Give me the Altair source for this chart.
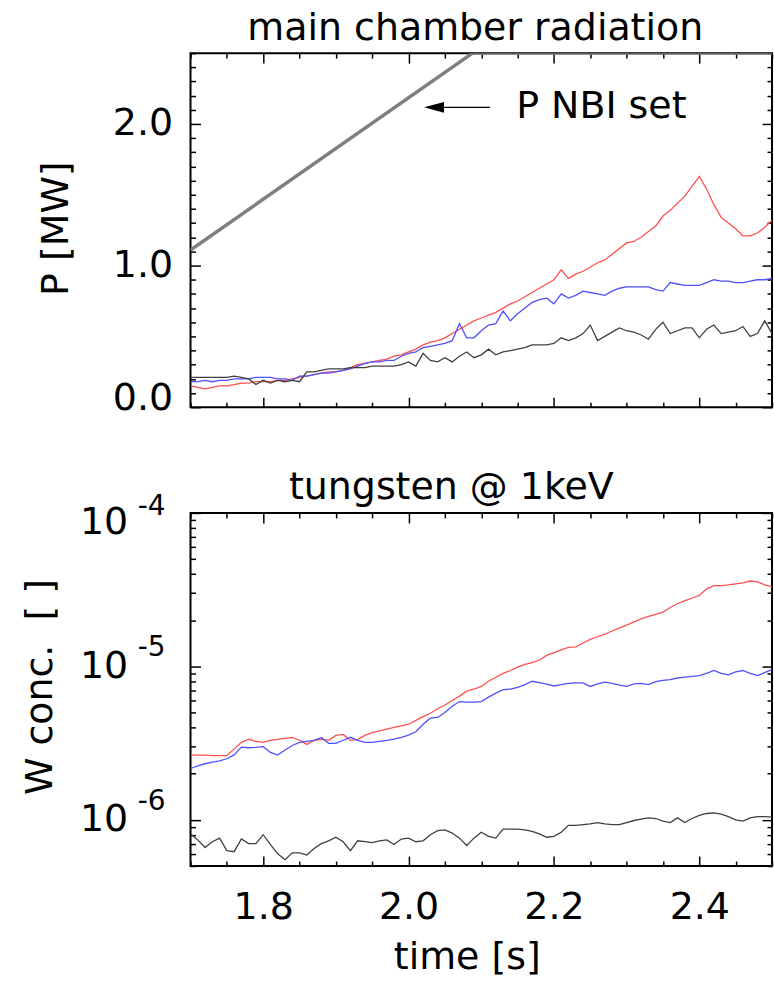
import altair as alt
import pandas as pd

FONT = "DejaVu Sans"

# ---- data -------------------------------------------------------------
time = [1.70, 1.71, 1.72, 1.73, 1.74, 1.75, 1.76, 1.77, 1.78, 1.79,
        1.80, 1.81, 1.82, 1.83, 1.84, 1.85, 1.86, 1.87, 1.88, 1.89,
        1.90, 1.91, 1.92, 1.93, 1.94, 1.95, 1.96, 1.97, 1.98, 1.99,
        2.00, 2.01, 2.02, 2.03, 2.04, 2.05, 2.06, 2.07, 2.08, 2.09,
        2.10, 2.11, 2.12, 2.13, 2.14, 2.15, 2.16, 2.17, 2.18, 2.19,
        2.20, 2.21, 2.22, 2.23, 2.24, 2.25, 2.26, 2.27, 2.28, 2.29,
        2.30, 2.31, 2.32, 2.33, 2.34, 2.35, 2.36, 2.37, 2.38, 2.39,
        2.40, 2.41, 2.42, 2.43, 2.44, 2.45, 2.46, 2.47, 2.48, 2.49,
        2.50]

# main chamber radiation [MW]
p_red = [0.15, 0.14, 0.13, 0.14, 0.15, 0.15, 0.16, 0.17, 0.17, 0.18,
         0.18, 0.18, 0.19, 0.19, 0.20, 0.21, 0.22, 0.23, 0.24, 0.25,
         0.25, 0.26, 0.28, 0.30, 0.31, 0.32, 0.33, 0.34, 0.36, 0.37,
         0.39, 0.41, 0.44, 0.46, 0.47, 0.49, 0.52, 0.55, 0.58, 0.61,
         0.63, 0.65, 0.67, 0.70, 0.73, 0.75, 0.78, 0.81, 0.84, 0.87,
         0.90, 0.97, 0.91, 0.94, 0.96, 0.99, 1.02, 1.04, 1.08, 1.12,
         1.16, 1.17, 1.20, 1.24, 1.28, 1.35, 1.39, 1.44, 1.49, 1.56,
         1.63, 1.54, 1.43, 1.34, 1.30, 1.26, 1.21, 1.21, 1.23, 1.27,
         1.32]
p_blue = [0.18, 0.18, 0.19, 0.18, 0.19, 0.19, 0.20, 0.20, 0.20, 0.21,
          0.21, 0.21, 0.20, 0.20, 0.19, 0.22, 0.22, 0.23, 0.24, 0.24,
          0.25, 0.26, 0.27, 0.29, 0.31, 0.32, 0.32, 0.33, 0.33, 0.36,
          0.38, 0.39, 0.42, 0.43, 0.44, 0.45, 0.47, 0.59, 0.49, 0.49,
          0.54, 0.58, 0.59, 0.68, 0.61, 0.66, 0.70, 0.74, 0.76, 0.77,
          0.73, 0.80, 0.77, 0.79, 0.82, 0.81, 0.80, 0.79, 0.82, 0.84,
          0.85, 0.85, 0.85, 0.85, 0.83, 0.82, 0.88, 0.87, 0.86, 0.86,
          0.86, 0.88, 0.90, 0.89, 0.89, 0.88, 0.88, 0.89, 0.90, 0.90,
          0.91]
p_black = [0.21, 0.21, 0.21, 0.21, 0.21, 0.21, 0.22, 0.21, 0.20, 0.16,
           0.19, 0.17, 0.19, 0.18, 0.19, 0.18, 0.25, 0.25, 0.26, 0.27,
           0.27, 0.27, 0.28, 0.28, 0.28, 0.29, 0.29, 0.29, 0.29, 0.30,
           0.32, 0.29, 0.38, 0.33, 0.32, 0.35, 0.32, 0.36, 0.39, 0.35,
           0.37, 0.41, 0.37, 0.39, 0.40, 0.41, 0.42, 0.44, 0.44, 0.44,
           0.45, 0.49, 0.47, 0.49, 0.52, 0.58, 0.47, 0.50, 0.53, 0.56,
           0.54, 0.53, 0.51, 0.48, 0.55, 0.60, 0.52, 0.54, 0.56, 0.56,
           0.49, 0.55, 0.58, 0.52, 0.53, 0.54, 0.57, 0.50, 0.52, 0.61,
           0.52]

# NBI power set point [MW]
nbi_time = [1.70, 2.088, 2.50]
nbi_power = [1.11, 2.50, 2.50]

# annotation arrow and label
arrow_tip_time = 2.035
arrow_tail_time = 2.112
arrow_power = 2.117
nbi_label = "P NBI set"
nbi_label_time = 2.148
nbi_label_power = 2.04

# tungsten concentration at 1 keV
w_red = [2.64e-6, 2.64e-6, 2.64e-6, 2.62e-6, 2.62e-6, 2.62e-6, 2.90e-6, 3.20e-6, 3.35e-6, 3.25e-6,
         3.20e-6, 3.30e-6, 3.35e-6, 3.40e-6, 3.45e-6, 3.30e-6, 3.10e-6, 3.30e-6, 3.35e-6, 3.30e-6,
         3.55e-6, 3.60e-6, 3.30e-6, 3.35e-6, 3.55e-6, 3.70e-6, 3.80e-6, 3.90e-6, 4.00e-6, 4.10e-6,
         4.20e-6, 4.45e-6, 4.70e-6, 4.95e-6, 5.30e-6, 5.60e-6, 6.00e-6, 6.40e-6, 6.90e-6, 7.10e-6,
         7.40e-6, 8.00e-6, 8.50e-6, 9.00e-6, 9.40e-6, 9.90e-6, 1.03e-5, 1.06e-5, 1.10e-5, 1.18e-5,
         1.23e-5, 1.28e-5, 1.33e-5, 1.34e-5, 1.42e-5, 1.50e-5, 1.56e-5, 1.62e-5, 1.70e-5, 1.78e-5,
         1.86e-5, 1.95e-5, 2.04e-5, 2.12e-5, 2.18e-5, 2.26e-5, 2.42e-5, 2.56e-5, 2.68e-5, 2.78e-5,
         2.90e-5, 3.20e-5, 3.36e-5, 3.36e-5, 3.40e-5, 3.45e-5, 3.50e-5, 3.60e-5, 3.55e-5, 3.40e-5,
         3.30e-5]
w_blue = [2.16e-6, 2.25e-6, 2.32e-6, 2.38e-6, 2.42e-6, 2.50e-6, 2.65e-6, 2.98e-6, 2.95e-6, 2.97e-6,
          3.00e-6, 2.75e-6, 2.64e-6, 2.85e-6, 3.05e-6, 3.20e-6, 3.25e-6, 3.30e-6, 3.44e-6, 3.15e-6,
          3.15e-6, 3.30e-6, 3.45e-6, 3.30e-6, 3.20e-6, 3.20e-6, 3.25e-6, 3.30e-6, 3.36e-6, 3.45e-6,
          3.57e-6, 3.75e-6, 4.20e-6, 4.60e-6, 4.65e-6, 5.00e-6, 5.50e-6, 5.90e-6, 5.85e-6, 5.85e-6,
          5.90e-6, 6.30e-6, 6.70e-6, 7.05e-6, 7.10e-6, 7.30e-6, 7.60e-6, 8.00e-6, 7.85e-6, 7.65e-6,
          7.45e-6, 7.60e-6, 7.75e-6, 7.80e-6, 7.80e-6, 7.40e-6, 7.70e-6, 7.90e-6, 7.75e-6, 7.55e-6,
          7.40e-6, 7.70e-6, 7.75e-6, 7.60e-6, 7.95e-6, 8.10e-6, 8.20e-6, 8.40e-6, 8.50e-6, 8.60e-6,
          8.70e-6, 9.00e-6, 9.40e-6, 9.00e-6, 8.80e-6, 9.20e-6, 9.40e-6, 9.00e-6, 8.70e-6, 9.10e-6,
          9.55e-6]
w_black = [8.1e-7, 7.4e-7, 6.6e-7, 7.2e-7, 7.6e-7, 6.3e-7, 6.2e-7, 7.5e-7, 7.0e-7, 7.0e-7,
           8.0e-7, 6.9e-7, 6.0e-7, 5.5e-7, 6.1e-7, 6.1e-7, 5.9e-7, 6.5e-7, 7.0e-7, 7.3e-7,
           7.7e-7, 7.2e-7, 6.3e-7, 7.3e-7, 7.2e-7, 7.1e-7, 7.3e-7, 7.4e-7, 6.9e-7, 7.5e-7,
           7.6e-7, 7.2e-7, 7.3e-7, 8.0e-7, 8.5e-7, 8.6e-7, 8.2e-7, 7.6e-7, 6.8e-7, 7.6e-7,
           8.3e-7, 7.8e-7, 7.6e-7, 8.7e-7, 8.7e-7, 8.7e-7, 8.6e-7, 8.4e-7, 8.1e-7, 7.7e-7,
           7.8e-7, 8.3e-7, 9.2e-7, 9.2e-7, 9.3e-7, 9.4e-7, 9.6e-7, 9.4e-7, 9.3e-7, 9.3e-7,
           9.6e-7, 9.9e-7, 1.01e-6, 1.03e-6, 1.02e-6, 9.8e-7, 9.6e-7, 1.03e-6, 9.6e-7, 1.02e-6,
           1.07e-6, 1.10e-6, 1.11e-6, 1.09e-6, 1.05e-6, 1.00e-6, 9.8e-7, 1.03e-6, 1.05e-6, 1.05e-6,
           1.04e-6]

# axis ranges, ticks and labels
x_domain = [1.7, 2.5]
p_domain = [0.0, 2.5]
w_domain = [5e-7, 1e-4]

x_tick_values = [1.70, 1.75, 1.80, 1.85, 1.90, 1.95, 2.00, 2.05, 2.10, 2.15,
                 2.20, 2.25, 2.30, 2.35, 2.40, 2.45, 2.50]
x_label_values = [1.8, 2.0, 2.2, 2.4]
p_tick_values = [0.0, 0.1, 0.2, 0.3, 0.4, 0.5, 0.6, 0.7, 0.8, 0.9,
                 1.0, 1.1, 1.2, 1.3, 1.4, 1.5, 1.6, 1.7, 1.8, 1.9,
                 2.0, 2.1, 2.2, 2.3, 2.4, 2.5]
p_label_values = [0.0, 1.0, 2.0]
w_tick_values = [5e-7, 6e-7, 7e-7, 8e-7, 9e-7,
                 1e-6, 2e-6, 3e-6, 4e-6, 5e-6, 6e-6, 7e-6, 8e-6, 9e-6,
                 1e-5, 2e-5, 3e-5, 4e-5, 5e-5, 6e-5, 7e-5, 8e-5, 9e-5, 1e-4]
w_label_values = [1e-4, 1e-5, 1e-6]
w_exponents = ["-4", "-5", "-6"]

# ---- geometry / style ---------------------------------------------------
W = 583
H_TOP = 355
H_BOT = 354
MAJOR = 10
MINOR = 5
RED = "#ff5050"
BLUE = "#5050ff"
DARK = "#404040"
NBI_GREY = "#7f7f7f"

X_MAJOR = "abs(datum.value * 5 - round(datum.value * 5)) < 0.001"
P_MAJOR = "abs(datum.value - round(datum.value)) < 0.001"
W_MAJOR = "abs(log(datum.value) / LN10 - round(log(datum.value) / LN10)) < 0.001"


def tick_axis(orient, offset, values, major_test):
    """Tick-only axis; placed on the opposite edge so ticks point inward."""
    return alt.Axis(
        orient=orient, offset=offset, values=values,
        labels=False, domain=False, grid=False, title=None,
        ticks=True, tickColor="black", tickWidth=1.5,
        tickSize={"condition": {"test": major_test, "value": MAJOR}, "value": MINOR},
    )


xs = alt.Scale(domain=x_domain, nice=False, zero=False)
ps = alt.Scale(domain=p_domain, nice=False, zero=False)
ws = alt.Scale(type="log", domain=w_domain, nice=False)

# ---- top panel: radiated power ----------------------------------------
top_df = pd.DataFrame({"time": time, "red": p_red, "blue": p_blue, "black": p_black})
nbi_df = pd.DataFrame({"time": nbi_time, "power": nbi_power})
arrow_df = pd.DataFrame({"tip": [arrow_tip_time], "tail": [arrow_tail_time],
                         "power": [arrow_power]})
label_df = pd.DataFrame({"time": [nbi_label_time], "power": [nbi_label_power],
                         "text": [nbi_label]})

p_label_axis = alt.Axis(
    orient="left", values=p_label_values, format=".1f",
    ticks=False, tickSize=0, domain=False, grid=False,
    labelFont=FONT, labelFontSize=38, labelColor="black", labelPadding=18,
    labelOffset={"condition": {"test": "datum.value == 0", "value": -9}, "value": 0},
    title="P [MW]", titleFont=FONT, titleFontSize=38, titleFontWeight="normal",
    titleColor="black", titleAngle=270, titleAlign="center", titleBaseline="alphabetic",
    titleX=-123, titleY=H_TOP / 2 - 2,
)

nbi_line = alt.Chart(nbi_df).mark_line(color=NBI_GREY, strokeWidth=3.5, clip=True).encode(
    x=alt.X("time:Q", scale=xs, axis=tick_axis("top", -H_TOP, x_tick_values, X_MAJOR)),
    y=alt.Y("power:Q", scale=ps, axis=p_label_axis),
)
red_top = alt.Chart(top_df).mark_line(color=RED, strokeWidth=1.3, clip=True).encode(
    x=alt.X("time:Q", scale=xs, axis=tick_axis("bottom", -H_TOP, x_tick_values, X_MAJOR)),
    y=alt.Y("red:Q", scale=ps, axis=tick_axis("right", -W, p_tick_values, P_MAJOR)),
)
blue_top = alt.Chart(top_df).mark_line(color=BLUE, strokeWidth=1.3, clip=True).encode(
    x=alt.X("time:Q", scale=xs, axis=None),
    y=alt.Y("blue:Q", scale=ps, axis=tick_axis("left", -W, p_tick_values, P_MAJOR)),
)
black_top = alt.Chart(top_df).mark_line(color=DARK, strokeWidth=1.3, clip=True).encode(
    x=alt.X("time:Q", scale=xs, axis=None),
    y=alt.Y("black:Q", scale=ps, axis=None),
)
arrow_shaft = alt.Chart(arrow_df).mark_rule(color="black", strokeWidth=1.5).encode(
    x=alt.X("tip:Q", scale=xs, axis=None),
    x2="tail:Q",
    y=alt.Y("power:Q", scale=ps, axis=None),
)
arrow_head = alt.Chart(arrow_df).mark_point(
    shape="M -1 0 L 1 -0.55 L 1 0.55 Z", size=400, filled=True, color="black", opacity=1
).encode(
    x=alt.X("tip:Q", scale=xs, axis=None),
    y=alt.Y("power:Q", scale=ps, axis=None),
)
nbi_text = alt.Chart(label_df).mark_text(
    font=FONT, fontSize=38, color="black", align="left", baseline="alphabetic"
).encode(
    x=alt.X("time:Q", scale=xs, axis=None),
    y=alt.Y("power:Q", scale=ps, axis=None),
    text="text:N",
)

top = alt.layer(
    red_top, blue_top, black_top, nbi_line, arrow_shaft, arrow_head, nbi_text
).resolve_axis(x="independent", y="independent").properties(
    width=W, height=H_TOP,
    title=alt.TitleParams(
        "main chamber radiation", font=FONT, fontSize=38, fontWeight="normal",
        color="black", anchor="middle", frame="group", baseline="alphabetic",
        offset=-25.5, dx=-6,
    ),
)

# ---- bottom panel: tungsten concentration -------------------------------
bot_df = pd.DataFrame({"time": time, "red": w_red, "blue": w_blue, "black": w_black})
exp_df = pd.DataFrame({"time": [x_domain[0]] * len(w_label_values),
                       "value": w_label_values, "exp": w_exponents})

x_label_axis = alt.Axis(
    orient="bottom", values=x_label_values, format=".1f",
    ticks=False, tickSize=0, domain=False, grid=False,
    labelFont=FONT, labelFontSize=38, labelColor="black", labelPadding=53,
    labelBaseline="alphabetic",
    title="time [s]", titleFont=FONT, titleFontSize=38, titleFontWeight="normal",
    titleColor="black", titleAlign="center", titleBaseline="alphabetic",
    titleX=277, titleY=103,
)
w_label_axis = alt.Axis(
    orient="left", values=w_label_values, labelExpr="'10'",
    ticks=False, tickSize=0, domain=False, grid=False,
    labelFont=FONT, labelFontSize=38, labelColor="black", labelPadding=63,
    labelOffset={"condition": {"test": "datum.value > 5e-5", "value": 10}, "value": 0},
    title="W conc.\u00a0 [ ]", titleFont=FONT, titleFontSize=38, titleFontWeight="normal",
    titleColor="black", titleAngle=270, titleAlign="center", titleBaseline="alphabetic",
    titleX=-139, titleY=H_BOT / 2 - 3,
)

red_bot = alt.Chart(bot_df).mark_line(color=RED, strokeWidth=1.3, clip=True).encode(
    x=alt.X("time:Q", scale=xs, axis=x_label_axis),
    y=alt.Y("red:Q", scale=ws, axis=w_label_axis),
)
blue_bot = alt.Chart(bot_df).mark_line(color=BLUE, strokeWidth=1.3, clip=True).encode(
    x=alt.X("time:Q", scale=xs, axis=tick_axis("top", -H_BOT, x_tick_values, X_MAJOR)),
    y=alt.Y("blue:Q", scale=ws, axis=tick_axis("right", -W, w_tick_values, W_MAJOR)),
)
black_bot = alt.Chart(bot_df).mark_line(color=DARK, strokeWidth=1.3, clip=True).encode(
    x=alt.X("time:Q", scale=xs, axis=tick_axis("bottom", -H_BOT, x_tick_values, X_MAJOR)),
    y=alt.Y("black:Q", scale=ws, axis=tick_axis("left", -W, w_tick_values, W_MAJOR)),
)
exp_style = dict(font=FONT, fontSize=28, color="black", align="left",
                 baseline="alphabetic", dx=-53)
exp_top = alt.Chart(exp_df).transform_filter("datum.value > 5e-5").mark_text(
    dy=2, **exp_style
).encode(
    x=alt.X("time:Q", scale=xs, axis=None),
    y=alt.Y("value:Q", scale=ws, axis=None),
    text="exp:N",
)
exp_rest = alt.Chart(exp_df).transform_filter("datum.value < 5e-5").mark_text(
    dy=-10, **exp_style
).encode(
    x=alt.X("time:Q", scale=xs, axis=None),
    y=alt.Y("value:Q", scale=ws, axis=None),
    text="exp:N",
)

bottom = alt.layer(
    red_bot, blue_bot, black_bot, exp_top, exp_rest
).resolve_axis(x="independent", y="independent").properties(
    width=W, height=H_BOT,
    title=alt.TitleParams(
        "tungsten @ 1keV", font=FONT, fontSize=38, fontWeight="normal",
        color="black", anchor="middle", frame="group", baseline="alphabetic",
        offset=-44, dx=-30,
    ),
)

chart = alt.vconcat(top, bottom, spacing=50).properties(
    padding={"left": 21, "top": 7, "right": 0, "bottom": 0},
    background="white",
).configure_view(stroke="black", strokeWidth=2)

chart.save("out.html", embed_options={"renderer": "svg", "actions": False})
